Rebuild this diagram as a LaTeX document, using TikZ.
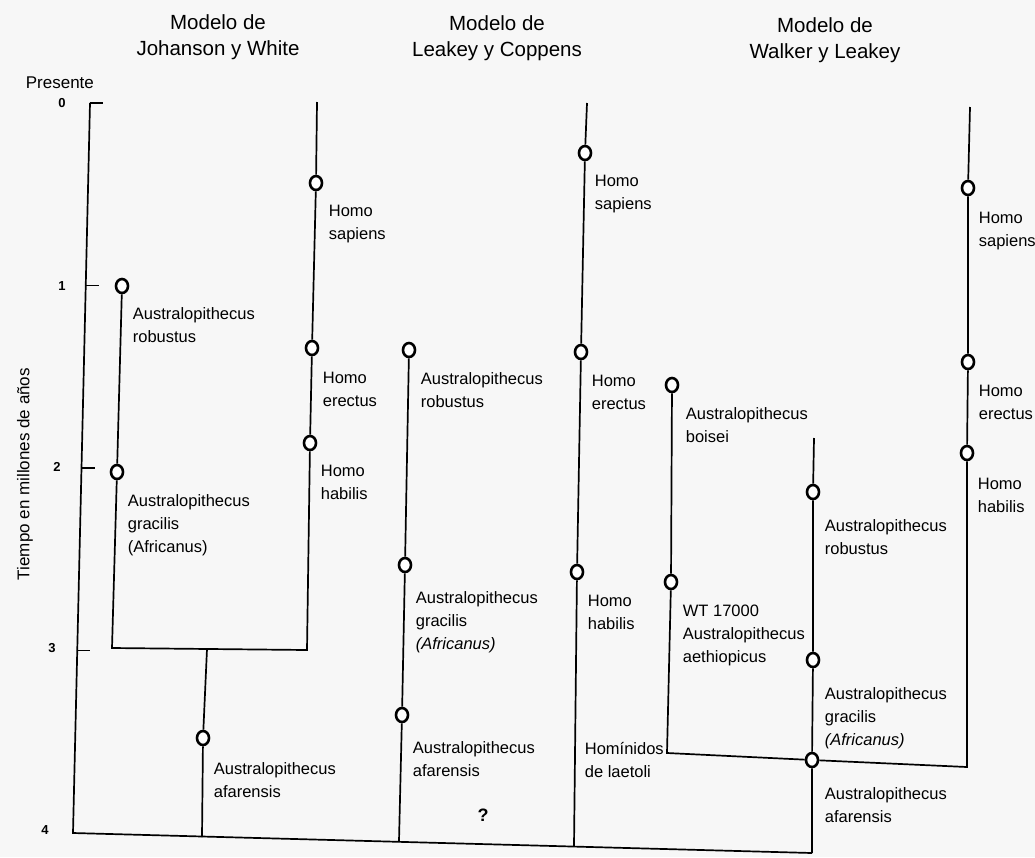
\documentclass[tikz,border=0pt]{standalone}
\usepackage{fontspec}
\setmainfont{Liberation Sans}
\usetikzlibrary{positioning, calc, shapes.geometric}

\begin{document}
\begin{tikzpicture}[x=1pt, y=-1pt, line width=1.7pt,
    fossil/.style={ellipse,draw,fill=white,line width=2.6pt,inner sep=0pt,minimum width=12pt,minimum height=14pt},
    taxon/.style={anchor=base west,align=left,inner sep=0pt,font=\fontsize{16.5}{23}\selectfont},
    modelo/.style={anchor=base,align=center,inner sep=0pt,font=\fontsize{20.5}{26}\selectfont},
    age/.style={inner sep=0pt,font=\fontsize{13}{13}\selectfont\bfseries}]

\useasboundingbox[fill=black!3] (0,0) rectangle (1035,857);

% titulos (base = ultima linea)
\node[modelo] (t-jw) at (218,55) {Modelo de\\Johanson y White};
\node[modelo] (t-lc) at (497,56) {Modelo de\\Leakey y Coppens};
\node[modelo] (t-wl) at (825,58) {Modelo de\\Walker y Leakey};

% eje del tiempo
\coordinate (ax0) at (90,103);
\coordinate (ax4) at (73,833);
\coordinate (end) at (812,853);
\node[anchor=base west,inner sep=0pt,font=\fontsize{17}{17}\selectfont] (presente) at (25,88) {Presente};
\node[age] (a0) at (62,103) {0};
\node[age] (a1) at (62,286) {1};
\node[age] (a2) at (57,467) {2};
\node[age] (a3) at (52,648) {3};
\node[age] (a4) at (45,830) {4};
\node[rotate=90,inner sep=0pt,font=\fontsize{17}{17}\selectfont] (eje) at (25,474) {Tiempo en millones de años};
\draw (ax0) -- (ax4) -- (end);
\foreach \k in {0,1,2,3}
  \draw ($(ax0)!\k/4!(ax4)$) -- ++(13,0);

% Johanson y White
\node[fossil] (jw-rob) at (122,286) {};
\node[fossil] (jw-gra) at (117,472) {};
\node[fossil] (jw-afa) at (203,738) {};
\node[fossil] (jw-sap) at (316,183) {};
\node[fossil] (jw-ere) at (312,348) {};
\node[fossil] (jw-hab) at (310,443) {};
\coordinate (jw-top) at (317,102);
\coordinate (jw-c1) at (112,648);
\coordinate (jw-c2) at (307,650);
\coordinate (jw-fork) at (207,649);
\coordinate (jw-bot) at (202,837);
\draw (jw-rob) -- (jw-gra) -- (jw-c1) -- (jw-c2) -- (jw-hab) -- (jw-ere) -- (jw-sap) -- (jw-top);
\draw (jw-fork) -- (jw-afa) -- (jw-bot);
\node[taxon] (jw-rob-l) at (132,342) {Australopithecus\\robustus};
\node[taxon] (jw-gra-l) at (127,552) {Australopithecus\\gracilis\\(Africanus)};
\node[taxon] (jw-afa-l) at (213,797) {Australopithecus\\afarensis};
\node[taxon] (jw-sap-l) at (328,239) {Homo\\sapiens};
\node[taxon] (jw-ere-l) at (322,406) {Homo\\erectus};
\node[taxon] (jw-hab-l) at (320,499) {Homo\\habilis};

% Leakey y Coppens
\node[fossil] (lc-rob) at (409,350) {};
\node[fossil] (lc-gra) at (405,565) {};
\node[fossil] (lc-afa) at (402,715) {};
\node[fossil] (lc-sap) at (585,153) {};
\node[fossil] (lc-ere) at (581,352) {};
\node[fossil] (lc-hab) at (577,572) {};
\coordinate (lc-top) at (587,103);
\coordinate (lc-bot1) at (399,841);
\coordinate (lc-bot2) at (574,846);
\draw (lc-rob) -- (lc-gra) -- (lc-afa) -- (lc-bot1);
\draw (lc-top) -- (lc-sap) -- (lc-ere) -- (lc-hab) -- (lc-bot2);
\node[taxon] (lc-rob-l) at (420,407) {Australopithecus\\robustus};
\node[taxon] (lc-gra-l) at (415,649) {Australopithecus\\gracilis\\\textit{(Africanus)}};
\node[taxon] (lc-afa-l) at (412,776) {Australopithecus\\afarensis};
\node[font=\fontsize{18}{18}\selectfont\bfseries,inner sep=0pt] (lc-q) at (483,815) {?};
\node[taxon] (lc-sap-l) at (594,209) {Homo\\sapiens};
\node[taxon] (lc-ere-l) at (591,409) {Homo\\erectus};
\node[taxon] (lc-hab-l) at (587,629) {Homo\\habilis};
\node[taxon] (lc-lae-l) at (584,777) {Homínidos\\de laetoli};

% Walker y Leakey
\node[fossil] (wl-boi) at (672,385) {};
\node[fossil] (wl-aet) at (671,582) {};
\node[fossil] (wl-rob) at (813,492) {};
\node[fossil] (wl-gra) at (813,660) {};
\node[fossil] (wl-afa) at (812,760) {};
\node[fossil] (wl-sap) at (968,188) {};
\node[fossil] (wl-ere) at (968,362) {};
\node[fossil] (wl-hab) at (967,453) {};
\coordinate (wl-c1) at (667,753);
\coordinate (wl-c2) at (967,767);
\coordinate (wl-top1) at (814,438);
\coordinate (wl-top2) at (970,107);
\draw (wl-boi) -- (wl-aet) -- (wl-c1) -- (wl-afa) -- (wl-c2) -- (wl-hab) -- (wl-ere) -- (wl-sap) -- (wl-top2);
\draw (wl-top1) -- (wl-rob) -- (wl-gra) -- (wl-afa) -- (end);
\node[taxon] (wl-boi-l) at (685,442) {Australopithecus\\boisei};
\node[taxon] (wl-aet-l) at (682,662) {WT 17000\\Australopithecus\\aethiopicus};
\node[taxon] (wl-rob-l) at (824,554) {Australopithecus\\robustus};
\node[taxon] (wl-gra-l) at (824,745) {Australopithecus\\gracilis\\\textit{(Africanus)}};
\node[taxon] (wl-afa-l) at (824,822) {Australopithecus\\afarensis};
\node[taxon] (wl-sap-l) at (978,246) {Homo\\sapiens};
\node[taxon] (wl-ere-l) at (978,419) {Homo\\erectus};
\node[taxon] (wl-hab-l) at (977,512) {Homo\\habilis};
\end{tikzpicture}
\end{document}
